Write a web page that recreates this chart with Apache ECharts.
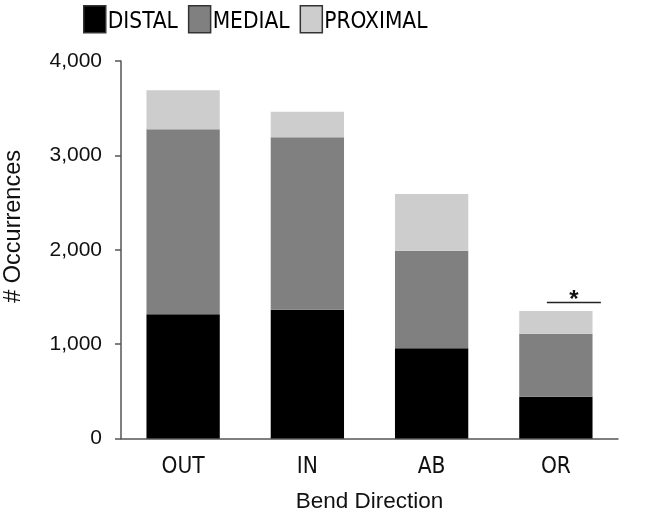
<!DOCTYPE html>
<html>
<head>
<meta charset="utf-8">
<script src="https://cdn.jsdelivr.net/npm/echarts@6/dist/echarts.min.js"></script>
<style>html,body{margin:0;padding:0;background:#fff;}#c{width:645px;height:522px;}</style>
</head>
<body>
<div id="c"></div>
<script>
const categories = ['OUT', 'IN', 'AB', 'OR'];
const distal = [1316, 1365, 956, 443];
const medial = [1960, 1827, 1034, 667];
const proximal = [414, 271, 601, 241];
const yTicks = [0, 1000, 2000, 3000, 4000];
const sigCategory = 'OR';
const sigValue = 1440;
const sigLabel = '*';

const chart = echarts.init(document.getElementById('c'));
const cond = "'DejaVu Sans Condensed', 'Liberation Sans Narrow', 'Liberation Sans', Arial, sans-serif";
const sans = "'Liberation Sans', Arial, sans-serif";
const axisColor = '#555';

chart.setOption({
  animation: false,
  legend: {
    top: 5, left: 83, padding: 0,
    itemWidth: 22, itemHeight: 27, itemGap: 10,
    icon: 'rect',
    itemStyle: { borderColor: '#333', borderWidth: 1.5 },
    formatter: '{a|{name}}',
    textStyle: {
      fontFamily: cond, fontSize: 22.5, color: '#000', padding: [0, 0, 0, -3],
      rich: { a: { fontFamily: cond, fontSize: 22.5, color: '#000', padding: [6, 0, 0, 0] } }
    },
    data: ['DISTAL', 'MEDIAL', 'PROXIMAL']
  },
  grid: { left: 121, right: 27, top: 61, bottom: 83.5 },
  xAxis: {
    type: 'category', data: categories,
    axisLine: { lineStyle: { color: axisColor, width: 1.5 } },
    axisTick: { show: false },
    axisLabel: { fontFamily: cond, fontSize: 22.5, color: '#111', margin: 17 },
    name: 'Bend Direction', nameLocation: 'middle', nameGap: 52,
    nameTextStyle: { fontFamily: sans, fontSize: 22.5, color: '#111' }
  },
  yAxis: {
    type: 'value', min: yTicks[0], max: yTicks[yTicks.length - 1], interval: 1000,
    splitLine: { show: false },
    axisLine: { show: true, lineStyle: { color: axisColor, width: 1.5 } },
    axisTick: { show: true, length: 6, lineStyle: { color: axisColor, width: 1.5 } },
    axisLabel: {
      fontFamily: sans, fontSize: 21, color: '#111', margin: 19,
      formatter: v => v.toLocaleString('en-US')
    }
  },
  graphic: [{
    type: 'text', left: 2, top: 150, rotation: Math.PI / 2,
    style: { text: '# Occurrences', fontFamily: sans, fontSize: 23.5, fill: '#111' }
  }],
  series: [
    { name: 'DISTAL', type: 'bar', stack: 's', data: distal, barCategoryGap: '41%',
      itemStyle: { color: '#000' } },
    { name: 'MEDIAL', type: 'bar', stack: 's', data: medial,
      itemStyle: { color: '#808080' } },
    { name: 'PROXIMAL', type: 'bar', stack: 's', data: proximal,
      itemStyle: { color: '#cdcdcd' } },
    {
      type: 'custom', silent: true, z: 10,
      data: [[sigCategory, sigValue]],
      renderItem: (params, api) => {
        const p = api.coord([api.value(0), api.value(1)]);
        const cx = p[0] + 18;
        return {
          type: 'group', children: [
            { type: 'line', shape: { x1: cx - 27, y1: p[1], x2: cx + 27, y2: p[1] },
              style: { stroke: '#222', lineWidth: 1.5 } },
            { type: 'text', x: cx, y: p[1] - 2,
              style: { text: sigLabel, fontFamily: sans, fontSize: 24, fontWeight: 'bold', fill: '#111',
                       align: 'center', verticalAlign: 'middle' } }
          ]
        };
      }
    }
  ]
});
</script>
</body>
</html>
